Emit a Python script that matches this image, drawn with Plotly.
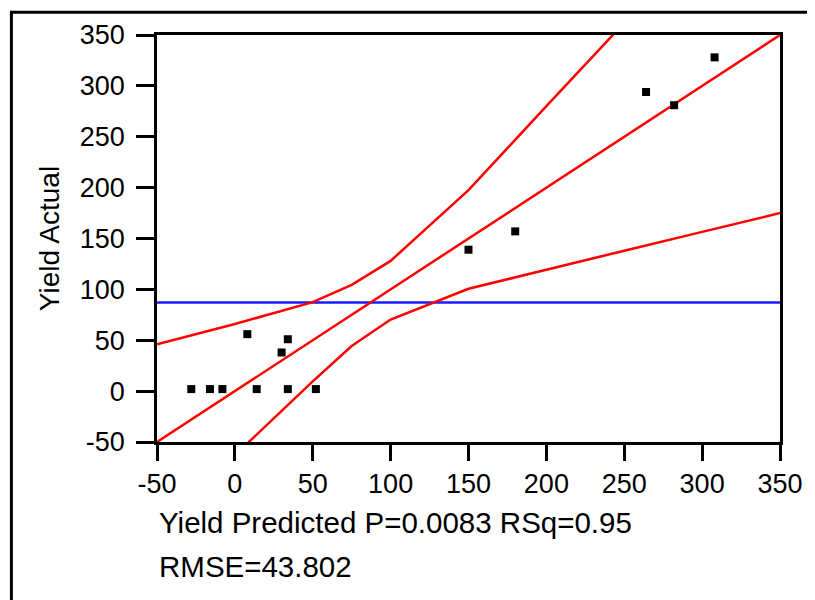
import plotly.graph_objects as go

# Data
predicted = [-28, -16, -8, 8, 14, 30, 34, 34, 52, 150, 180, 264, 282, 308]
actual = [2, 2, 2, 56, 2, 38, 51, 2, 2, 139, 157, 294, 281, 328]

fit_x = [-50, 350]
fit_y = [-50, 350]

upper_x = [-50, 0, 50, 75, 100, 150, 200, 250]
upper_y = [46, 66, 87.5, 104.5, 128, 197.5, 280, 362]

lower_x = [0, 50, 75, 100, 150, 200, 250, 300, 350]
lower_y = [-63, 9.5, 44.3, 70.4, 100.6, 119.5, 138, 156.5, 175]

mean_x = [-50, 350]
mean_y = [87, 87]

tick_vals = [-50, 0, 50, 100, 150, 200, 250, 300, 350]
tick_text = ["-50", "0", "50", "100", "150", "200", "250", "300", "350"]

FONT = "Liberation Sans, Arial, sans-serif"
RED = "#ff0000"

fig = go.Figure()
fig.add_trace(go.Scatter(x=mean_x, y=mean_y, mode="lines",
                         line=dict(color="#1a1aff", width=2.5), hoverinfo="skip"))
fig.add_trace(go.Scatter(x=fit_x, y=fit_y, mode="lines",
                         line=dict(color=RED, width=2.5)))
fig.add_trace(go.Scatter(x=upper_x, y=upper_y, mode="lines",
                         line=dict(color=RED, width=2.5)))
fig.add_trace(go.Scatter(x=lower_x, y=lower_y, mode="lines",
                         line=dict(color=RED, width=2.5)))
fig.add_trace(go.Scatter(x=predicted, y=actual, mode="markers",
                         marker=dict(symbol="square", size=8, color="black",
                                     line=dict(width=0))))

OFF = 8  # default page body margin
W, H = 815 - OFF, 600 - OFF
L, R, T, B = 157 - OFF, 29, 32 - OFF, 158
pw, ph = W - L - R, H - T - B
y_bottom = 442 - OFF  # pixel of plot bottom in figure coords


def px_x(p):
    return (p - OFF - L) / pw


def px_y(p):
    return (y_bottom - (p - OFF)) / ph


axis_common = dict(
    showgrid=False, zeroline=False, showline=True, linecolor="black",
    linewidth=2.5, mirror=True, ticks="outside", tickwidth=2.5,
    tickcolor="black", tickvals=tick_vals, ticktext=tick_text,
    tickfont=dict(size=27, color="black", family=FONT),
)

fig.update_layout(
    width=W, height=H,
    margin=dict(l=L, r=R, t=T, b=B, pad=0),
    paper_bgcolor="white", plot_bgcolor="white",
    showlegend=False,
    font=dict(family=FONT, color="black"),
    xaxis=dict(range=[-50, 350], ticklen=16, **axis_common),
    yaxis=dict(range=[-50, 350], ticklen=18, ticklabelstandoff=6,
               title=dict(text="Yield Actual", font=dict(size=28, family=FONT, color="black"),
                          standoff=12),
               **axis_common),
)

fig.add_annotation(xref="paper", yref="paper", x=px_x(157), y=px_y(523),
                   xanchor="left", yanchor="middle", showarrow=False,
                   text="Yield Predicted P=0.0083 RSq=0.95",
                   font=dict(size=29.5, family=FONT, color="black"))
fig.add_annotation(xref="paper", yref="paper", x=px_x(157), y=px_y(567),
                   xanchor="left", yanchor="middle", showarrow=False,
                   text="RMSE=43.802",
                   font=dict(size=29.5, family=FONT, color="black"))

# outer frame (extends beyond right and bottom edges)
fig.add_shape(type="rect", xref="paper", yref="paper",
              x0=px_x(10), x1=px_x(860),
              y0=px_y(650), y1=px_y(9),
              line=dict(color="black", width=3), fillcolor="rgba(0,0,0,0)", layer="below")

fig.write_html("out.html")
